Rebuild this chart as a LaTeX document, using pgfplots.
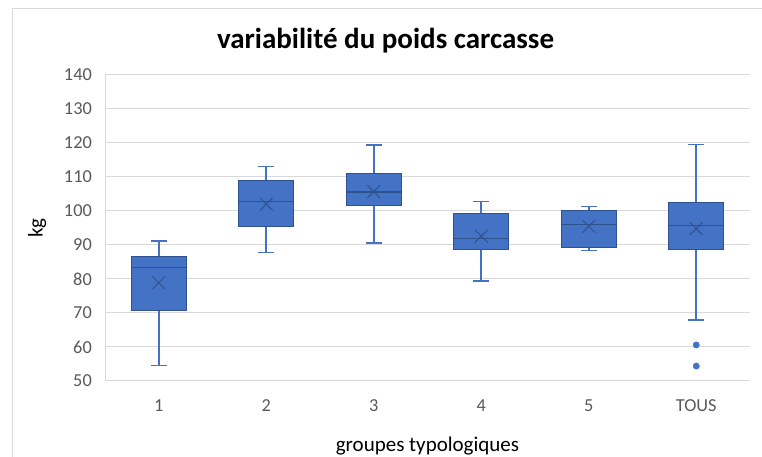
\documentclass[border=0pt]{standalone}
\usepackage{fontspec}
\setmainfont{Carlito}
\usepackage{pgfplots}
\pgfplotsset{compat=1.18}
\usepgfplotslibrary{statistics}
\definecolor{boxblue}{HTML}{4472C4}
\definecolor{edgeblue}{HTML}{2F528F}
\definecolor{gridgray}{HTML}{D9D9D9}
\definecolor{labelgray}{HTML}{595959}

\begin{document}
\begin{tikzpicture}
  \useasboundingbox (0pt,0pt) rectangle (762pt,457pt);
  \draw[gridgray,line width=1pt] (12pt,-5pt) -- (12pt,448pt) -- (770pt,448pt);
  \node[font=\bfseries\fontsize{29}{34}\selectfont] at (385.5pt,416pt) {variabilité du poids carcasse};
  \begin{axis}[
      at={(105pt,76pt)},anchor=south west,
      scale only axis,width=645pt,height=306pt,
      xmin=0.5,xmax=6.5,ymin=50,ymax=140,
      xtick={1,...,6},xticklabels={1,2,3,4,5,TOUS},
      ytick={50,60,...,140},
      ymajorgrids,grid style={gridgray,line width=1pt},
      axis x line=bottom,axis y line=left,
      axis line style={gridgray,line width=1pt,-},
      major tick length=0pt,
      /pgf/number format/assume math mode=true,
      tick label style={font=\fontsize{18.3}{22}\selectfont,text=labelgray},
      yticklabel style={anchor=east,inner sep=0pt,xshift=-13pt},
      xticklabel style={anchor=base,inner sep=0pt,yshift=-30.7pt},
      label style={font=\fontsize{21}{25}\selectfont,text=black},
      ylabel={kg},
      ylabel style={at={(axis description cs:-0.1054,0.5)},anchor=center,rotate=0},
      xlabel={groupes typologiques},
      xlabel style={at={(axis description cs:0.5,-0.232)},anchor=base},
      boxplot/draw direction=y,
      boxplot/box extend=0.51,
      boxplot/whisker extend=0.15,
      boxplot/every box/.style={fill=boxblue,draw=edgeblue,line width=1pt},
      boxplot/every median/.style={draw=edgeblue,line width=1.2pt},
      boxplot/every whisker/.style={draw=boxblue,line width=1.6pt},
    ]
    \addplot[boxplot prepared={draw position=1,lower whisker=54.5,lower quartile=70.8,
      median=83.4,upper quartile=86.5,upper whisker=91.2}]
      coordinates {};
    \addplot[boxplot prepared={draw position=2,lower whisker=87.8,lower quartile=95.4,
      median=102.9,upper quartile=108.9,upper whisker=113.1}]
      coordinates {};
    \addplot[boxplot prepared={draw position=3,lower whisker=90.5,lower quartile=101.6,
      median=105.6,upper quartile=111.1,upper whisker=119.4}]
      coordinates {};
    \addplot[boxplot prepared={draw position=4,lower whisker=79.4,lower quartile=88.7,
      median=92.0,upper quartile=99.3,upper whisker=102.8}]
      coordinates {};
    \addplot[boxplot prepared={draw position=5,lower whisker=88.4,lower quartile=89.3,
      median=96.1,upper quartile=100.0,upper whisker=101.3}]
      coordinates {};
    \addplot[boxplot prepared={draw position=6,lower whisker=68.0,lower quartile=88.7,
      median=95.8,upper quartile=102.6,upper whisker=119.5}]
      coordinates {};
    % moyennes
    \addplot[only marks,mark=x,mark size=9pt,draw=edgeblue,line width=1pt]
      coordinates {(1,78.9)(2,102.0)(3,105.7)(4,92.6)(5,95.5)(6,94.8)};
    % valeurs extremes
    \addplot[only marks,mark=*,mark size=3.2pt,draw=boxblue,fill=boxblue]
      coordinates {(6,60.6)(6,54.4)};
  \end{axis}
\end{tikzpicture}
\end{document}
